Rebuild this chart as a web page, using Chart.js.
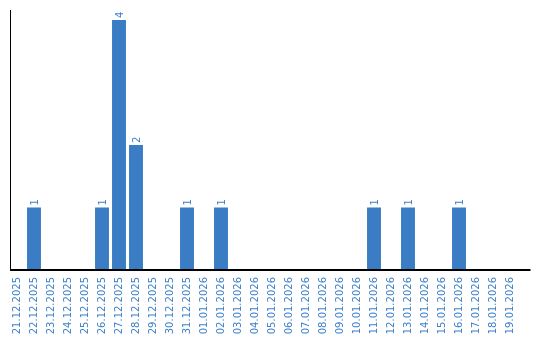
<!DOCTYPE html>
<html>
<head>
<meta charset="utf-8">
<script src="https://cdn.jsdelivr.net/npm/chart.js@4.4.1/dist/chart.umd.min.js"></script>
<style>
    html, body { margin: 0; padding: 0; background: #fff; }
    #wrap { width: 540px; height: 340px; }
</style>
</head>
<body>
<div id="wrap"><canvas id="chart" width="540" height="340"></canvas></div>
<script>
// daily counts
const dates = [
    '21.12.2025', '22.12.2025', '23.12.2025', '24.12.2025', '25.12.2025',
    '26.12.2025', '27.12.2025', '28.12.2025', '29.12.2025', '30.12.2025',
    '31.12.2025', '01.01.2026', '02.01.2026', '03.01.2026', '04.01.2026',
    '05.01.2026', '06.01.2026', '07.01.2026', '08.01.2026', '09.01.2026',
    '10.01.2026', '11.01.2026', '12.01.2026', '13.01.2026', '14.01.2026',
    '15.01.2026', '16.01.2026', '17.01.2026', '18.01.2026', '19.01.2026'
];
const counts = [
    0, 1, 0, 0, 0,
    1, 4, 2, 0, 0,
    1, 0, 1, 0, 0,
    0, 0, 0, 0, 0,
    0, 1, 0, 1, 0,
    0, 1, 0, 0, 0
];

const blue = '#3b7dc4';
const labelBlue = '#3f80c8';
const labelFont = '10px "DejaVu Sans"';

// value labels above the bars, rotated like the axis labels
const barValues = {
    id: 'barValues',
    afterDatasetsDraw(chart) {
        const ctx = chart.ctx;
        const meta = chart.getDatasetMeta(0);
        ctx.save();
        ctx.font = labelFont;
        ctx.fillStyle = labelBlue;
        ctx.textAlign = 'left';
        ctx.textBaseline = 'middle';
        meta.data.forEach((bar, i) => {
            if (!counts[i]) return;
            ctx.save();
            ctx.translate(bar.x + 1, bar.y - 2);
            ctx.rotate(-Math.PI / 2);
            ctx.fillText(String(counts[i]), 0, 0);
            ctx.restore();
        });
        ctx.restore();
    }
};

// plain black axis lines; the baseline runs a bit past the last category
const axisLines = {
    id: 'axisLines',
    afterDraw(chart) {
        const { ctx, chartArea } = chart;
        ctx.save();
        ctx.strokeStyle = '#000';
        ctx.lineWidth = 1;
        ctx.beginPath();
        ctx.moveTo(chartArea.left + 2, chartArea.top);
        ctx.lineTo(chartArea.left + 2, chartArea.bottom);
        ctx.stroke();
        ctx.lineWidth = 2;
        ctx.beginPath();
        ctx.moveTo(chartArea.left + 1.5, chartArea.bottom);
        ctx.lineTo(chartArea.right + 12, chartArea.bottom);
        ctx.stroke();
        ctx.restore();
    }
};

new Chart(document.getElementById('chart'), {
    type: 'bar',
    data: {
        labels: dates,
        datasets: [{
            data: counts,
            backgroundColor: blue,
            borderWidth: 0,
            barPercentage: 0.82,
            categoryPercentage: 1
        }]
    },
    options: {
        responsive: false,
        animation: false,
        layout: {
            padding: { left: 8.5, right: 21.5, top: 10, bottom: 0 }
        },
        plugins: {
            legend: { display: false },
            tooltip: { enabled: false }
        },
        scales: {
            x: {
                grid: { display: false, drawTicks: false },
                border: { display: false },
                ticks: {
                    autoSkip: false,
                    minRotation: 90,
                    maxRotation: 90,
                    padding: 7,
                    color: labelBlue,
                    font: { family: 'DejaVu Sans', size: 10 }
                },
                afterFit(scale) {
                    scale.height = 70;
                }
            },
            y: {
                display: false,
                min: 0,
                max: 4.16
            }
        }
    },
    plugins: [barValues, axisLines]
});
</script>
</body>
</html>
